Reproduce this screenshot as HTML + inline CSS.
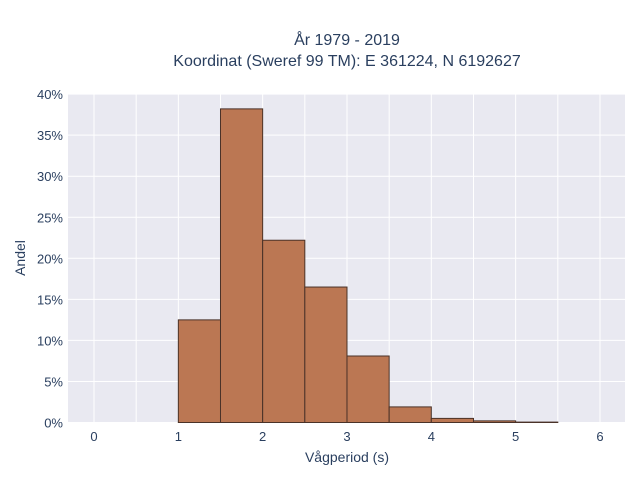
<!DOCTYPE html>
<html><head><meta charset="utf-8"><style>
body{margin:0;background:#fff;}
svg{font-family:"Liberation Sans",sans-serif;}
</style></head><body>
<svg id="chart" width="640" height="480">
<text x="347" y="45" text-anchor="middle" font-size="16" fill="#2a3f5f">År 1979 - 2019</text>
<text x="347" y="66" text-anchor="middle" font-size="16" fill="#2a3f5f">Koordinat (Sweref 99 TM): E 361224, N 6192627</text>
<rect x="68" y="94" width="557" height="329" fill="#e9e9f1"/>
<g id="grid"></g>
<g id="bars"></g>
<g id="ticks"></g>
<text x="347" y="462" text-anchor="middle" font-size="14" fill="#2a3f5f">Vågperiod (s)</text>
<text transform="translate(25,258) rotate(-90)" text-anchor="middle" font-size="14" fill="#2a3f5f">Andel</text>
</svg>
<script>
const binStarts=[1,1.5,2,2.5,3,3.5,4,4.5,5];
const binWidth=0.5;
const shares=[12.5,38.2,22.2,16.5,8.1,1.9,0.5,0.2,0.05];
const xTicks=[0,1,2,3,4,5,6];
const yTicks=[0,5,10,15,20,25,30,35,40];
const NS="http://www.w3.org/2000/svg";
function xs(v){return 94+v*84.33;}
function ys(v){return 422.5-v*8.21;}
function mk(tag,attrs,parent){const e=document.createElementNS(NS,tag);for(const k in attrs)e.setAttribute(k,attrs[k]);document.getElementById(parent).appendChild(e);return e;}
for(let v=0;v<=6.001;v+=0.5){
 const l=mk('line',{x1:xs(v),x2:xs(v),y1:94,y2:423,stroke:'#fff','stroke-width':1},'grid');
 
 
}
yTicks.forEach(t=>{
 const l=mk('line',{x1:68,x2:625,y1:ys(t),y2:ys(t),stroke:'#fff','stroke-width':1},'grid');
 
 
 const tx=mk('text',{x:63,y:ys(t)+5,'text-anchor':'end','font-size':13,fill:'#2a3f5f'},'ticks');
 tx.textContent=t+'%';
 
 
});
xTicks.forEach(t=>{
 const tx=mk('text',{x:xs(t),y:441,'text-anchor':'middle','font-size':13,fill:'#2a3f5f'},'ticks');
 tx.textContent=t;
 
 
});
binStarts.forEach((b,i)=>{
 const x0=xs(b),x1=xs(b+binWidth),y=ys(shares[i]);
 const r=mk('rect',{x:x0,y:y,width:x1-x0,height:ys(0)-y,fill:'#bb7753',stroke:'#4a3228','stroke-width':1},'bars');
 
 
});
</script>
</body></html>
